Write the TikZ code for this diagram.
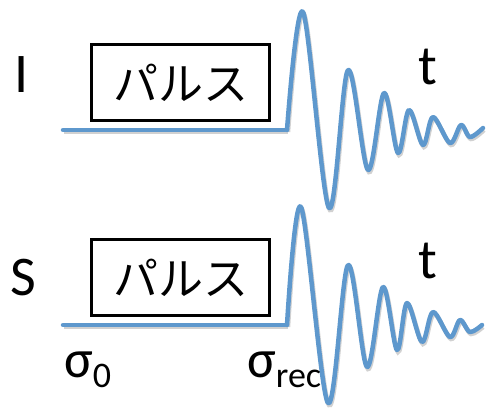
\documentclass[tikz,border=0pt]{standalone}
\usepackage{fontspec}
\setmainfont{Carlito}
\newfontfamily\jpfont{Noto Sans CJK JP}
\definecolor{wavecol}{HTML}{5E98CD}
\begin{document}
\begin{tikzpicture}[x=1pt,y=-1pt,
  wave/.style={draw=wavecol,line width=4.5pt,line cap=round,line join=round,
    preaction={draw=black!18,line width=4.5pt,transform canvas={shift={(1pt,-2pt)}}}},
  pulsebox/.style={draw=black,line width=2.8pt,minimum width=178pt,minimum height=76pt,inner sep=0pt,font=\jpfont\fontsize{45}{45}\selectfont},
  lab/.style={anchor=base,inner sep=0pt,font=\fontsize{56}{56}\selectfont}]
\useasboundingbox (0,0) rectangle (487,409);
% top
\node[pulsebox] (b1) at (180.5,82.5) {パルス};
\node[lab] (lI) at (22,93) {I};
\node[lab] (t1) at (428,85) {t};
\draw[wave] (63,130) -- (287,130);
\draw[wave] plot[smooth,tension=0.55] coordinates {(287,130) (303,12) (329,208) (348,70) (368,170) (384,93) (398,153) (409,110) (423,145) (433,117) (450,143) (461,125) (470,137) (483,128)};
% bottom
\node[pulsebox] (b2) at (180.5,277.5) {パルス};
\node[lab] (lS) at (23,295) {S};
\node[lab] (t2) at (428,278) {t};
\draw[wave] (63,325) -- (287,325);
\draw[wave] plot[smooth,tension=0.55] coordinates {(287,325) (301,207) (328,403) (348,265) (367,367) (383,287) (397,350) (407,303) (422,342) (433,312) (450,337) (460,320) (470,332) (482,325)};
\node[anchor=base west,inner sep=0pt,font=\fontsize{54}{54}\selectfont] (s0) at (64,377) {σ\raisebox{-10pt}{\fontsize{36}{36}\selectfont 0}};
\node[anchor=base west,inner sep=0pt,font=\fontsize{54}{54}\selectfont] (srec) at (247,377) {σ\raisebox{-10pt}{\fontsize{36}{36}\selectfont rec}};
\end{tikzpicture}
\end{document}
